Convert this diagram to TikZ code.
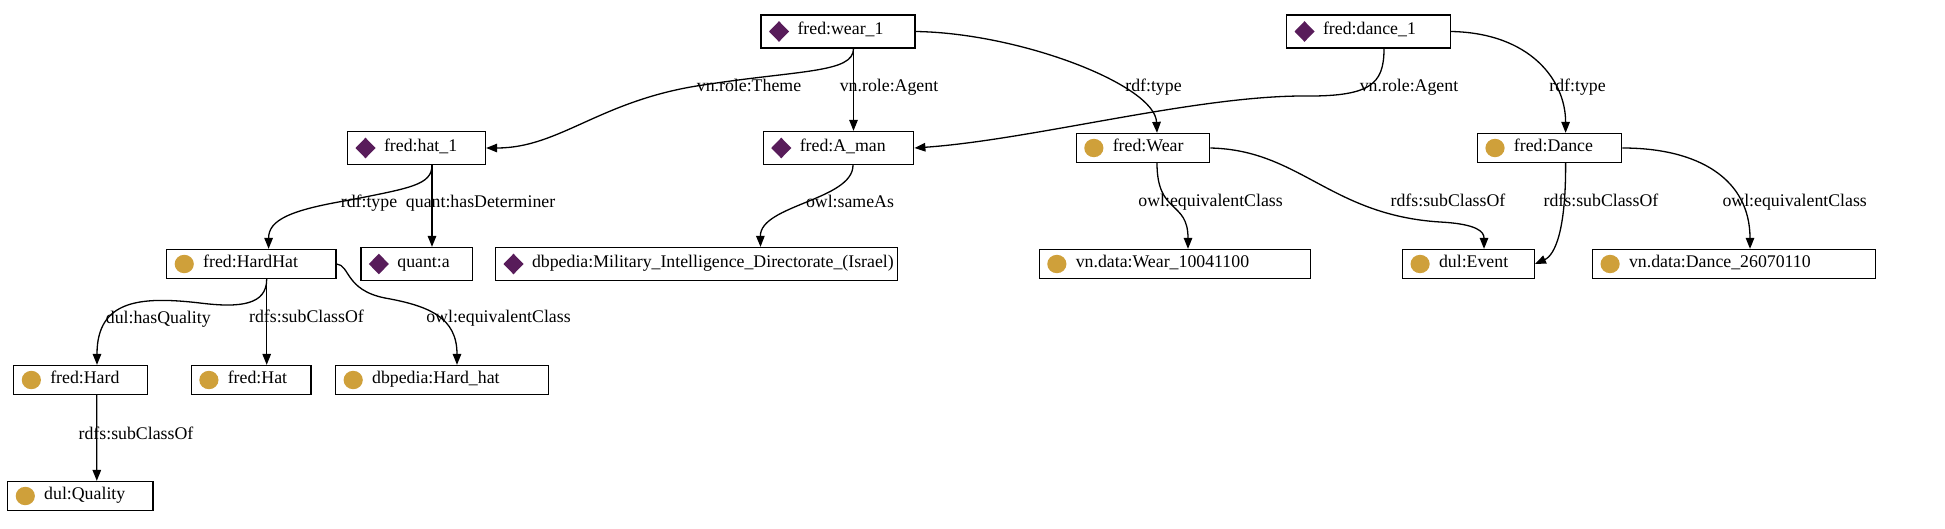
\documentclass[tikz,border=0pt]{standalone}
\usepackage{fontspec}
\setmainfont{Liberation Serif}
\usetikzlibrary{arrows.meta}
\definecolor{indcol}{RGB}{88,28,90}
\definecolor{clscol}{RGB}{207,160,58}
\newcommand{\boxtext}[2]{\makebox[#1pt][l]{\hspace{36.5pt}#2}}
\tikzset{
  ent/.style={draw, line width=1.3pt, rectangle, inner xsep=0pt, inner ysep=0pt,
    text height=10pt, text depth=4pt, anchor=center},
  ind/.style={ent, minimum height=33pt, path picture={\fill[indcol] ([xshift=18pt]path picture bounding box.west)
    +(0,-10.3) -- +(10,0) -- +(0,10.3) -- +(-10,0) -- cycle;}},
  cls/.style={ent, minimum height=29pt, path picture={\fill[clscol] ([xshift=17.6pt]path picture bounding box.west)
    ellipse [x radius=9.6pt, y radius=9.2pt];}},
  edge/.style={line width=1.3pt, -{Triangle[length=11pt,width=8.5pt]}},
  lbl/.style={inner sep=0pt, text height=12pt, text depth=3.4pt}
}
\begin{document}
\begin{tikzpicture}[x=1pt,y=-1pt,font=\fontsize{17.8}{21}\selectfont]
\fill[white] (0,0) rectangle (1945,528);
\useasboundingbox (0,0) rectangle (1945,528);

% nodes
\node[ind] (wear1) at (838,31.5) {\boxtext{154}{fred:wear\_1}};
\node[ind] (dance1) at (1368.5,31.5) {\boxtext{164}{fred:dance\_1}};
\node[ind] (hat1) at (416.5,148) {\boxtext{138}{fred:hat\_1}};
\node[ind] (aman) at (838.5,148) {\boxtext{150.5}{fred:A\_man}};
\node[cls] (wearc) at (1143,148) {\boxtext{133.5}{fred:Wear}};
\node[cls] (dance) at (1549.6,148) {\boxtext{144.4}{fred:Dance}};
\node[cls] (hardhat) at (251.3,264) {\boxtext{169.3}{fred:HardHat}};
\node[ind] (quanta) at (416.7,264) {\boxtext{111.7}{quant:a}};
\node[ind] (mid) at (696.5,264) {\boxtext{402}{dbpedia:Military\_Intelligence\_Directorate\_(Israel)}};
\node[cls] (vnwear) at (1175,264) {\boxtext{271.5}{vn.data:Wear\_10041100}};
\node[cls] (event) at (1468.4,264) {\boxtext{131.8}{dul:Event}};
\node[cls] (vndance) at (1734,264) {\boxtext{283}{vn.data:Dance\_26070110}};
\node[cls] (hard) at (80.5,380) {\boxtext{133.5}{fred:Hard}};
\node[cls] (hat) at (251.2,380) {\boxtext{119.8}{fred:Hat}};
\node[cls] (hardhathat) at (442,380) {\boxtext{212.8}{dbpedia:Hard\_hat}};
\node[cls] (quality) at (80.4,496) {\boxtext{145.4}{dul:Quality}};

% edges
\draw[edge] ([xshift=15.5]wear1.south) .. controls (853.5,73) and (800,70) .. (703,85)
  .. controls (600,100) and (560,148) .. (hat1.east);
\draw[edge] ([xshift=15.5]wear1.south) -- ([xshift=15]aman.north);
\draw[edge] (wear1.east) .. controls (1020,33) and (1155,85) .. ([xshift=14]wearc.north);
\draw[edge] ([xshift=15.5]dance1.south) .. controls (1384,85) and (1370,97) .. (1300,96)
  .. controls (1190,97) and (1030,140) .. (aman.east);
\draw[edge] (dance1.east) .. controls (1530,33) and (1565.6,80) .. ([xshift=16]dance.north);
\draw[edge] ([xshift=15.5]hat1.south) .. controls (432,185) and (410,188) .. (350,200)
  .. controls (290,210) and (268.6,220) .. ([xshift=17.3]hardhat.north);
\draw[edge] ([xshift=15.5]hat1.south) -- ([xshift=15.3]quanta.north);
\draw[edge] ([xshift=14.5]aman.south) .. controls (853,200) and (760,205) .. ([xshift=64]mid.north);
\draw[edge] ([xshift=14]wearc.south) .. controls (1157,215) and (1188,200) .. ([xshift=13]vnwear.north);
\draw[edge] (wearc.east) .. controls (1300,150) and (1330,215) .. (1440,222)
  .. controls (1478,224) and (1484,232) .. ([xshift=15.6]event.north);
\draw[edge] ([xshift=16]dance.south) .. controls (1566,230) and (1555,255) .. (event.east);
\draw[edge] (dance.east) .. controls (1700,148) and (1750,180) .. ([xshift=16]vndance.north);
\draw[edge] ([xshift=15.4]hardhat.south) .. controls (266.7,305) and (240,308) .. (200,303)
  .. controls (140,296) and (97,300) .. ([xshift=16.5]hard.north);
\draw[edge] ([xshift=15.4]hardhat.south) -- ([xshift=15.5]hat.north);
\draw[edge] (hardhat.east) .. controls (350,265) and (345,290) .. (385,298)
  .. controls (430,306) and (457,318) .. ([xshift=15]hardhathat.north);
\draw[edge] ([xshift=16.3]hard.south) -- ([xshift=16.4]quality.north);

% labels
\node[lbl] (l1) at (749,87) {vn.role:Theme};
\node[lbl] (l2) at (889,87) {vn.role:Agent};
\node[lbl] (l3) at (1153.5,87) {rdf:type};
\node[lbl] (l4) at (1409,87) {vn.role:Agent};
\node[lbl] (l5) at (1577.5,87) {rdf:type};
\node[lbl] (l6) at (369,203) {rdf:type};
\node[lbl] (l7) at (480.6,203) {quant:hasDeterminer};
\node[lbl] (l8) at (850,203) {owl:sameAs};
\node[lbl] (l9) at (1210.6,202) {owl:equivalentClass};
\node[lbl] (l10) at (1448,202) {rdfs:subClassOf};
\node[lbl] (l11) at (1601,202) {rdfs:subClassOf};
\node[lbl] (l12) at (1794.7,202) {owl:equivalentClass};
\node[lbl] (l13) at (158.3,319) {dul:hasQuality};
\node[lbl] (l14) at (306.5,318.5) {rdfs:subClassOf};
\node[lbl] (l15) at (498.5,318) {owl:equivalentClass};
\node[lbl] (l16) at (136,435) {rdfs:subClassOf};
\end{tikzpicture}
\end{document}
